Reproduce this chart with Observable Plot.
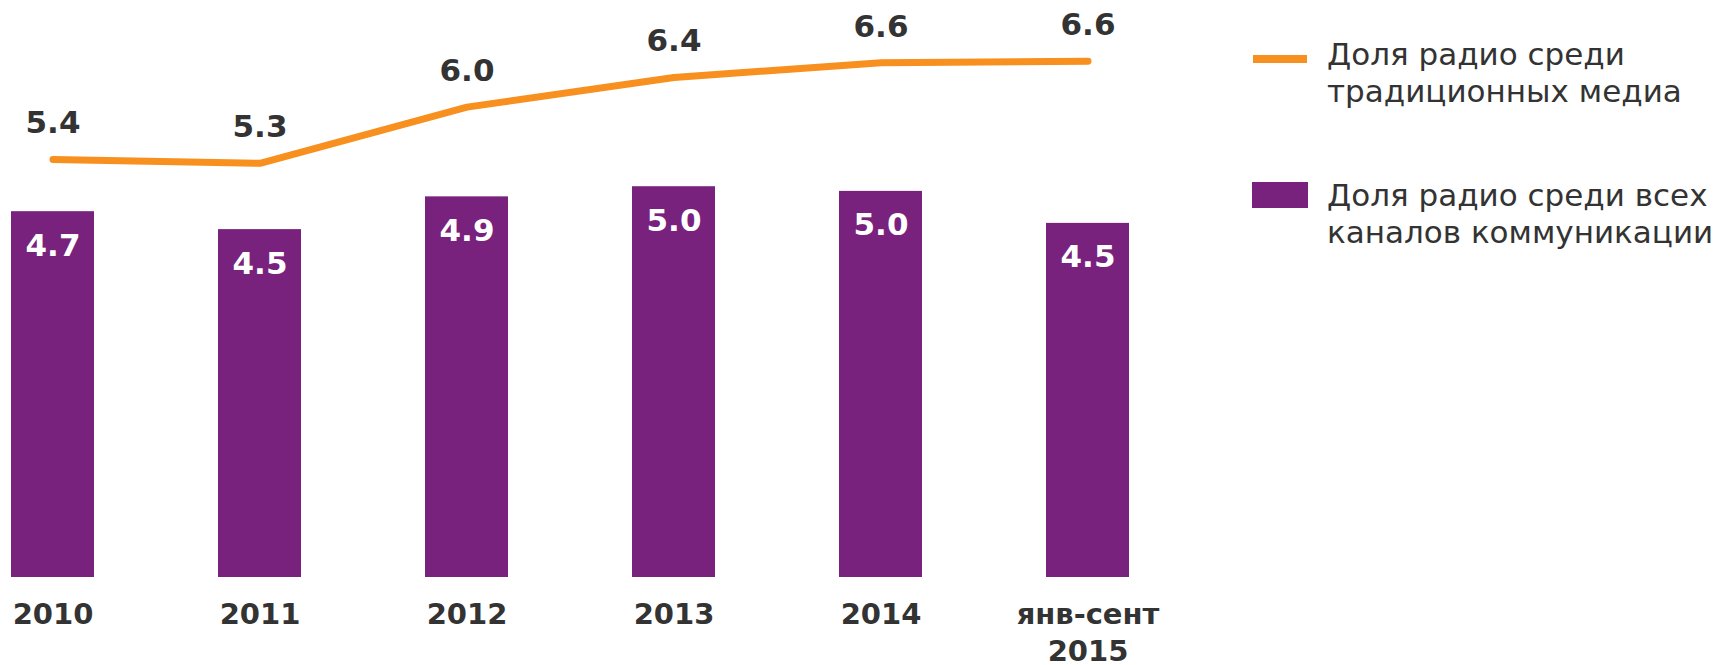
<!DOCTYPE html>
<html><head><meta charset="utf-8">
<script src="https://cdn.jsdelivr.net/npm/d3@7"></script>
<script src="https://cdn.jsdelivr.net/npm/@observablehq/plot@0.6"></script>
<style>
body{margin:0;background:#fff;}
#wrap{position:relative;width:1719px;height:665px;font-family:"DejaVu Sans",Verdana,sans-serif;}
#wrap svg{position:absolute;left:0;top:0;}
.sw{position:absolute;}
.lt{position:absolute;left:1327px;font-size:31px;line-height:37px;color:#333;white-space:nowrap;}
</style></head><body><div id="wrap"></div>
<script>
const years = ["2010","2011","2012","2013","2014","2015"];
const tickLabels = ["2010","2011","2012","2013","2014","янв-сент\n2015"];
const allChannelsShare = [4.69, 4.46, 4.88, 5.01, 4.95, 4.54];
const traditionalShare = [5.36, 5.31, 6.03, 6.41, 6.60, 6.62];
const seriesNames = ["Доля радио среди\nтрадиционных медиа", "Доля радио среди всех\nканалов коммуникации"];
const colors = ["#F7901E", "#78217D"];

const rows = years.map((y, i) => ({year: y, bar: allChannelsShare[i], line: traditionalShare[i]}));

const chart = Plot.plot({
  width: 1719, height: 665,
  marginLeft: 9, marginRight: 588, marginTop: 31, marginBottom: 88,
  style: {fontFamily: '"DejaVu Sans", Verdana, sans-serif', background: "#fff"},
  x: {domain: years, paddingInner: 0.6, paddingOuter: 0, label: null},
  y: {domain: [0, 7], axis: null},
  marks: [
    Plot.barY(rows, {x: "year", y: "bar", fill: colors[1]}),
    Plot.line(rows, {x: "year", y: "line", stroke: colors[0], strokeWidth: 7, strokeLinecap: "round", strokeLinejoin: "round"}),
    Plot.text(rows, {x: "year", y: "line", text: d => d.line.toFixed(1), dy: -36, lineAnchor: "middle", fontSize: 31, fontWeight: "bold", fill: "#333"}),
    Plot.text(rows, {x: "year", y: "bar", text: d => d.bar.toFixed(1), dy: 34, lineAnchor: "middle", fontSize: 31, fontWeight: "bold", fill: "#fff"}),
    Plot.axisX({tickSize: 0, tickPadding: 21, label: null, tickFormat: d => tickLabels[years.indexOf(d)], fontSize: 29, fontWeight: "bold", lineHeight: 1.26, color: "#333"})
  ]
});
const wrap = document.getElementById("wrap");
wrap.appendChild(chart);

function addLegend(swStyle, text, top) {
  const sw = document.createElement("div");
  sw.className = "sw";
  Object.assign(sw.style, swStyle);
  wrap.appendChild(sw);
  const t = document.createElement("div");
  t.className = "lt";
  t.style.top = top + "px";
  t.innerHTML = text.split("\n").join("<br>");
  wrap.appendChild(t);
}
addLegend({left: "1253px", top: "55px", width: "54px", height: "8px", background: colors[0]}, seriesNames[0], 36);
addLegend({left: "1252px", top: "182px", width: "56px", height: "26px", background: colors[1]}, seriesNames[1], 177);
</script>
</body></html>
